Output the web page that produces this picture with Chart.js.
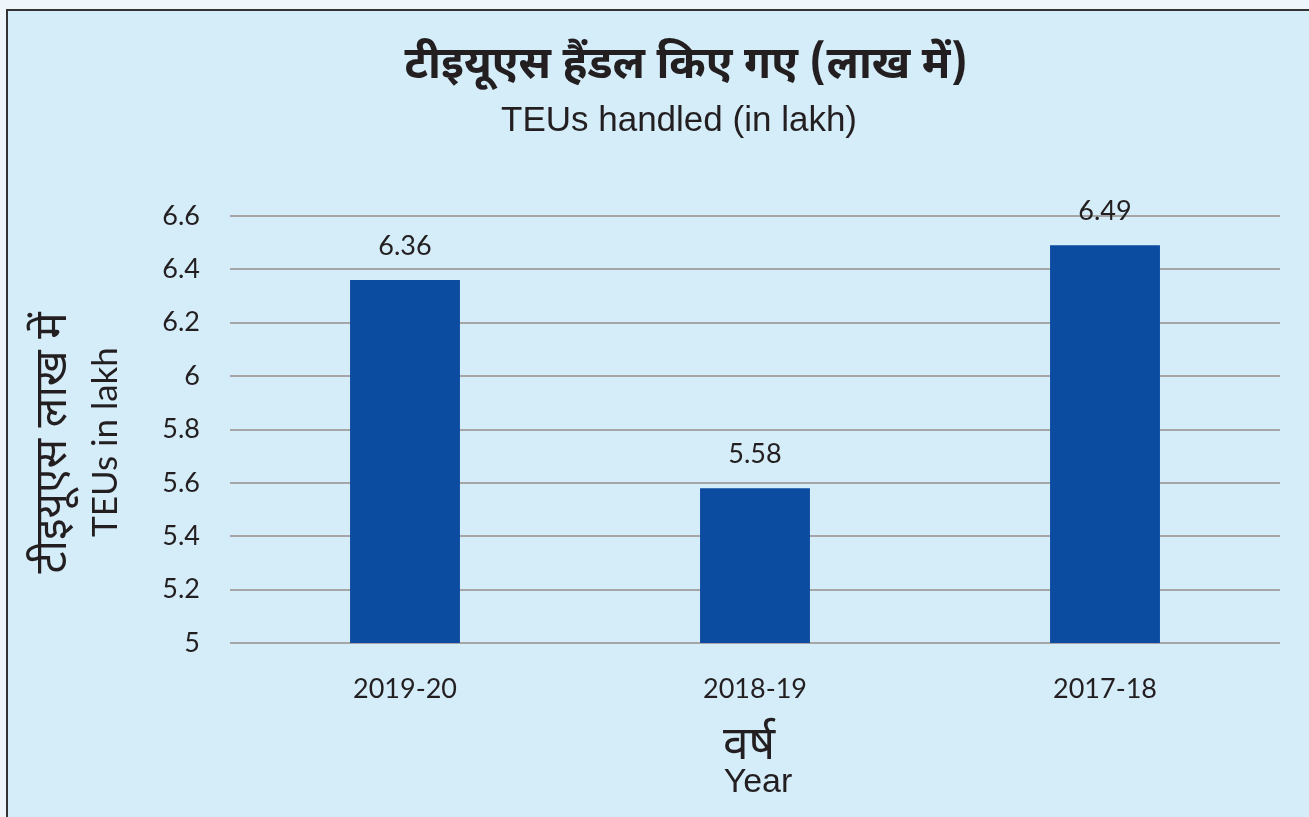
<!DOCTYPE html>
<html>
<head>
<meta charset="utf-8">
<script src="https://cdn.jsdelivr.net/npm/chart.js@4.4.1/dist/chart.umd.min.js"></script>
<style>
  html, body { margin: 0; padding: 0; background: #eef6fb; }
  #wrap { width: 1309px; height: 817px; position: relative; }
</style>
</head>
<body>
<div id="wrap"><canvas id="teuChart" width="1309" height="817"></canvas></div>
<script>
// data
const years = ['2019-20', '2018-19', '2017-18'];
const teuValues = [6.36, 5.58, 6.49];
const yTicks = [5, 5.2, 5.4, 5.6, 5.8, 6, 6.2, 6.4, 6.6];

const titleHi = 'टीइयूएस हैंडल किए गए (लाख में)';
const titleEn = 'TEUs handled (in lakh)';
const yTitleHi = 'टीइयूएस लाख में';
const yTitleEn = 'TEUs in lakh';
const xTitleHi = 'वर्ष';
const xTitleEn = 'Year';

const hindiFont = "'Noto Sans Devanagari', 'Lohit Devanagari', 'Noto Sans', sans-serif";
const tickFont = 'Lato, "Open Sans", sans-serif';
const textColor = '#231f20';

// background panel and border
const panelPlugin = {
  id: 'panel',
  beforeDraw(chart) {
    const ctx = chart.ctx;
    ctx.save();
    ctx.fillStyle = '#eef6fb';
    ctx.fillRect(0, 0, chart.width, chart.height);
    ctx.fillStyle = '#d5ecf9';
    ctx.fillRect(7, 10, chart.width, chart.height);
    ctx.strokeStyle = '#333333';
    ctx.lineWidth = 2;
    ctx.strokeRect(7, 10, chart.width + 10, chart.height + 10);
    ctx.restore();
  }
};

// value labels above bars
const valueLabels = {
  id: 'valueLabels',
  afterDatasetsDraw(chart) {
    const ctx = chart.ctx;
    const meta = chart.getDatasetMeta(0);
    ctx.save();
    ctx.font = '27px ' + tickFont;
    ctx.fillStyle = textColor;
    ctx.textAlign = 'center';
    ctx.textBaseline = 'middle';
    meta.data.forEach((bar, i) => {
      ctx.fillText(teuValues[i].toFixed(2), bar.x, bar.y - 34);
    });
    ctx.restore();
  }
};

// titles and axis titles
const textPlugin = {
  id: 'texts',
  afterDraw(chart) {
    const ctx = chart.ctx;
    ctx.save();
    ctx.fillStyle = textColor;
    ctx.textAlign = 'center';
    ctx.textBaseline = 'middle';

    ctx.font = 'bold 44px ' + hindiFont;
    ctx.fillText(titleHi, 686, 70);
    ctx.font = '35px "Liberation Sans", Arial, sans-serif';
    ctx.fillText(titleEn, 679, 121);

    ctx.font = '46px ' + hindiFont;
    ctx.fillText(xTitleHi, 749, 750);
    ctx.font = '34px "Liberation Sans", Arial, sans-serif';
    ctx.fillText(xTitleEn, 758, 783);
    ctx.restore();

    ctx.save();
    ctx.fillStyle = textColor;
    ctx.textAlign = 'center';
    ctx.textBaseline = 'middle';
    ctx.translate(58, 443);
    ctx.rotate(-Math.PI / 2);
    ctx.font = '44px ' + hindiFont;
    ctx.fillText(yTitleHi, 0, 0);
    ctx.restore();

    ctx.save();
    ctx.fillStyle = textColor;
    ctx.textAlign = 'center';
    ctx.textBaseline = 'middle';
    ctx.translate(106, 442);
    ctx.rotate(-Math.PI / 2);
    ctx.font = '35px ' + tickFont;
    ctx.fillText(yTitleEn, 0, 0);
    ctx.restore();
  }
};

const ctx = document.getElementById('teuChart').getContext('2d');
new Chart(ctx, {
  type: 'bar',
  data: {
    labels: years,
    datasets: [{
      data: teuValues,
      backgroundColor: '#0b4ca0',
      borderWidth: 0,
      barPercentage: 1,
      categoryPercentage: 0.314
    }]
  },
  options: {
    responsive: false,
    animation: false,
    devicePixelRatio: 1,
    layout: { padding: { top: 216, right: 29, bottom: 0, left: 0 } },
    plugins: {
      legend: { display: false },
      tooltip: { enabled: false }
    },
    scales: {
      x: {
        grid: { display: false, drawTicks: false },
        border: { display: false },
        ticks: { color: textColor, font: { family: tickFont, size: 27 }, padding: 30 },
        afterFit(scale) { scale.height = 174; }
      },
      y: {
        min: 5,
        max: 6.6,
        afterBuildTicks(scale) { scale.ticks = yTicks.map(v => ({ value: v })); },
        grid: { color: '#a6a6a6', lineWidth: 2, drawTicks: false },
        border: { display: false },
        ticks: {
          color: textColor,
          font: { family: tickFont, size: 27 },
          padding: 30,
          callback: v => String(Math.round(v * 10) / 10)
        },
        afterFit(scale) { scale.width = 230; }
      }
    }
  },
  plugins: [panelPlugin, valueLabels, textPlugin]
});
</script>
</body>
</html>
